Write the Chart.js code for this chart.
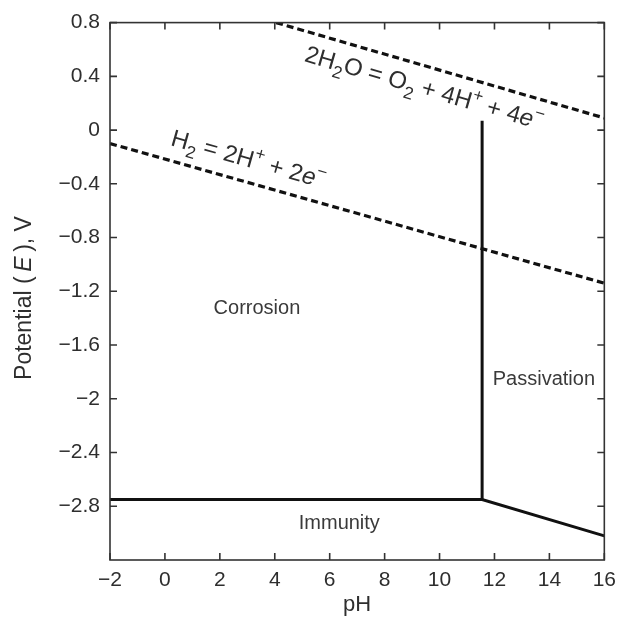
<!DOCTYPE html>
<html>
<head>
<meta charset="utf-8">
<script src="https://cdn.jsdelivr.net/npm/chart.js@4"></script>
<style>
html, body { margin: 0; padding: 0; background: #fff; }
#wrap { width: 624px; height: 629px; }
</style>
</head>
<body>
<div id="wrap"><canvas id="grafico" width="624" height="629"></canvas></div>
<script>
// eixos: pH (x) e potencial (y)
const xTicks = [-2, 0, 2, 4, 6, 8, 10, 12, 14, 16];
const yTicks = [0.8, 0.4, 0, -0.4, -0.8, -1.2, -1.6, -2, -2.4, -2.8];
const xMin = -2, xMax = 16, yMin = -3.2, yMax = 0.8;

// linhas tracejadas da agua
const o2pH = [4.05, 16];
const o2E = [0.8, 0.09];
const h2pH = [-2, 16];
const h2E = [-0.1, -1.14];

// fronteiras solidas
const imunPH = [-2, 11.55, 16];
const imunE = [-2.75, -2.75, -3.02];
const passPH = [11.55, 11.55];
const passE = [-2.75, 0.07];

// rotulos das regioes
const regioes = ['Corrosion', 'Passivation', 'Immunity'];
const regioesPH = [3.35, 13.8, 6.35];
const regioesE = [-1.33, -1.86, -2.93];

// equacoes (texto, tipo)
const eqO2 = [['2H'], ['2', 'sub'], ['O = O'], ['2', 'sub'], [' + 4H'], ['+', 'sup'], [' + 4'], ['e', 'it'], ['\u2212', 'sup']];
const eqH2 = [['H'], ['2', 'sub'], [' = 2H'], ['+', 'sup'], [' + 2'], ['e', 'it'], ['\u2212', 'sup']];
const eqPH = [9.45, 3.05];
const eqE = [0.32, -0.21];

const FONTE = '"Liberation Sans", Arial, Helvetica, sans-serif';
const COR_TEXTO = '#2e2e2e';

const pts = (xs, ys) => xs.map((v, i) => ({ x: v, y: ys[i] }));

function fmt(v) {
  const r = Math.round(v * 10) / 10;
  return r < 0 ? '\u2212' + Math.abs(r) : String(r);
}

// desenha texto com sub/sobrescrito, centralizado em (cx, cy)
function textoRico(ctx, segs, cx, cy, angulo, tam) {
  const fontDe = s => {
    const peq = s[1] === 'sub' || s[1] === 'sup';
    return (s[1] === 'it' ? 'italic ' : '') + (peq ? tam * 0.72 : tam) + 'px ' + FONTE;
  };
  ctx.save();
  ctx.translate(cx, cy);
  ctx.rotate(angulo);
  ctx.textBaseline = 'alphabetic';
  ctx.textAlign = 'left';
  let w = 0;
  segs.forEach(s => { ctx.font = fontDe(s); w += ctx.measureText(s[0]).width; });
  let x = -w / 2;
  const base = tam * 0.36;
  segs.forEach(s => {
    ctx.font = fontDe(s);
    let dy = 0;
    if (s[1] === 'sub') dy = tam * 0.3;
    if (s[1] === 'sup') dy = -tam * 0.42;
    ctx.fillText(s[0], x, base + dy);
    x += ctx.measureText(s[0]).width;
  });
  ctx.restore();
}

const decoracao = {
  id: 'decoracao',
  afterDraw(chart) {
    const { ctx, chartArea: a, scales: { x, y } } = chart;
    ctx.save();

    // moldura e ticks para dentro
    ctx.strokeStyle = '#333';
    ctx.lineWidth = 1.6;
    ctx.strokeRect(a.left, a.top, a.right - a.left, a.bottom - a.top);
    ctx.beginPath();
    xTicks.forEach(v => {
      const px = x.getPixelForValue(v);
      ctx.moveTo(px, a.bottom); ctx.lineTo(px, a.bottom - 7);
      ctx.moveTo(px, a.top); ctx.lineTo(px, a.top + 7);
    });
    yTicks.forEach(v => {
      const py = y.getPixelForValue(v);
      ctx.moveTo(a.left, py); ctx.lineTo(a.left + 7, py);
      ctx.moveTo(a.right, py); ctx.lineTo(a.right - 7, py);
    });
    ctx.stroke();

    // regioes
    ctx.fillStyle = '#3a3a3a';
    ctx.font = '20px ' + FONTE;
    ctx.textAlign = 'center';
    ctx.textBaseline = 'middle';
    regioes.forEach((r, i) => {
      ctx.fillText(r, x.getPixelForValue(regioesPH[i]), y.getPixelForValue(regioesE[i]));
    });

    // equacoes ao longo das linhas
    ctx.fillStyle = COR_TEXTO;
    const ang = (xs, ys) => Math.atan2(
      y.getPixelForValue(ys[1]) - y.getPixelForValue(ys[0]),
      x.getPixelForValue(xs[1]) - x.getPixelForValue(xs[0]));
    textoRico(ctx, eqO2, x.getPixelForValue(eqPH[0]), y.getPixelForValue(eqE[0]), ang(o2pH, o2E), 24);
    textoRico(ctx, eqH2, x.getPixelForValue(eqPH[1]), y.getPixelForValue(eqE[1]), ang(h2pH, h2E), 24);

    // titulo do eixo y
    textoRico(ctx, [['Potential ('], ['\u2009E\u2009', 'it'], ['), V']], 23, y.getPixelForValue(-1.25), -Math.PI / 2, 23);

    ctx.restore();
  }
};

const linha = (data, dash, w) => ({
  data: data, showLine: true, borderColor: '#111', borderWidth: w,
  borderDash: dash, pointRadius: 0, fill: false, tension: 0
});

new Chart(document.getElementById('grafico'), {
  type: 'scatter',
  data: {
    datasets: [
      linha(pts(o2pH, o2E), [7, 4], 3.2),
      linha(pts(h2pH, h2E), [7, 4], 3.2),
      linha(pts(imunPH, imunE), [], 3),
      linha(pts(passPH, passE), [], 3)
    ]
  },
  options: {
    responsive: false,
    animation: false,
    events: [],
    layout: { padding: { top: 14, right: 17, left: 0, bottom: 0 } },
    plugins: { legend: { display: false }, tooltip: { enabled: false } },
    scales: {
      x: {
        type: 'linear', min: xMin, max: xMax,
        afterBuildTicks: s => { s.ticks = xTicks.map(v => ({ value: v })); },
        afterFit: s => { s.height = 69; },
        grid: { display: false, drawTicks: false },
        border: { display: false },
        ticks: { padding: 8, color: COR_TEXTO, font: { size: 21, family: FONTE }, maxRotation: 0, callback: v => fmt(v) },
        title: { display: true, text: 'pH', color: COR_TEXTO, font: { size: 22, family: FONTE }, padding: { top: 0, bottom: 11 } }
      },
      y: {
        type: 'linear', min: yMin, max: yMax,
        afterBuildTicks: s => { s.ticks = yTicks.map(v => ({ value: v })); },
        afterFit: s => { s.width = 110; },
        grid: { display: false, drawTicks: false },
        border: { display: false },
        ticks: { padding: 10, color: COR_TEXTO, font: { size: 21, family: FONTE }, callback: v => fmt(v) }
      }
    }
  },
  plugins: [decoracao]
});
</script>
</body>
</html>
